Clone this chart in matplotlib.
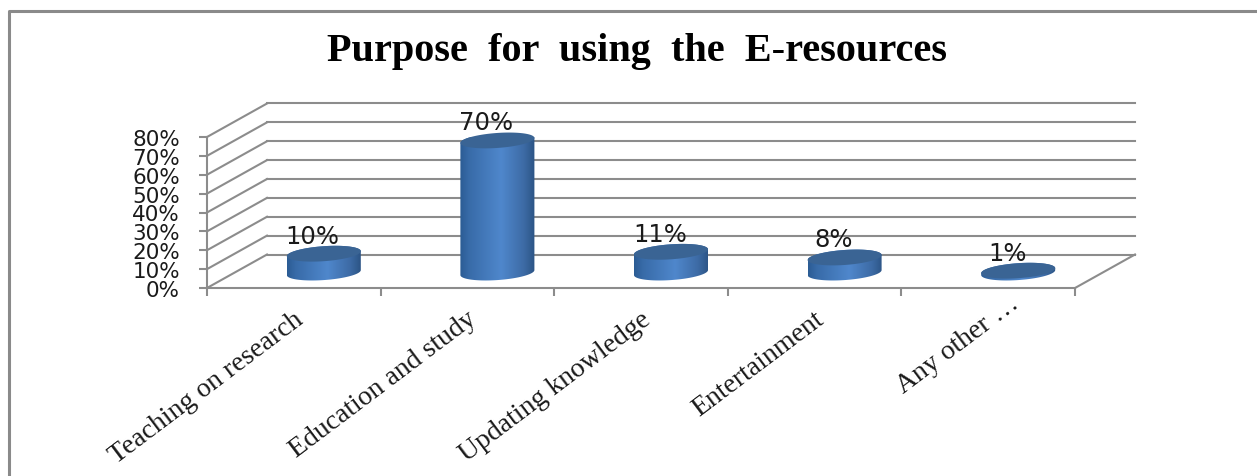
import numpy as np
import matplotlib
matplotlib.use('Agg')
import matplotlib.pyplot as plt
from matplotlib.lines import Line2D
from matplotlib.patches import Polygon

categorias = ['Teaching on research', 'Education and study', 'Updating knowledge',
              'Entertainment', 'Any other …']
valores = [10, 70, 11, 8, 1]
marcas_y = [0, 10, 20, 30, 40, 50, 60, 70, 80]

largura, altura = 1257, 477
cinza = '#8c8c8c'

fig = plt.figure(figsize=(largura / 100, altura / 100), dpi=100, facecolor='white')
# eixo = parede da frente do grafico 3D
ax = fig.add_axes([207 / largura, 1 - 289 / altura, 868 / largura, 151 / altura])
ax.patch.set_visible(False)

# profundidade em unidades dos dados
px_x = 868 / 5
px_y = 151 / 80
prof_x = 60 / px_x
prof_y = 33.5 / px_y

# grade no fundo e diagonais na parede esquerda
for v in marcas_y:
    ax.plot([prof_x, 5 + prof_x], [v + prof_y, v + prof_y], color=cinza, lw=1.5, clip_on=False, zorder=1)
    ax.plot([0, prof_x], [v, v + prof_y], color=cinza, lw=1.5, clip_on=False, zorder=1)
ax.plot([5, 5 + prof_x], [0, prof_y], color=cinza, lw=1.5, clip_on=False, zorder=1)

# degrade dos cilindros
pos = [0, 0.12, 0.55, 0.85, 1]
r = np.interp(np.linspace(0, 1, 200), pos, [0.17, 0.22, 0.31, 0.24, 0.17])
g = np.interp(np.linspace(0, 1, 200), pos, [0.36, 0.42, 0.53, 0.42, 0.33])
b = np.interp(np.linspace(0, 1, 200), pos, [0.58, 0.66, 0.80, 0.65, 0.52])
degrade = np.dstack([r, g, b])

raio_x = 37 / px_x
raio_y = 7.5 / px_y
inclina = 2.5 / px_y


def elipse(cx, cy, t):
    return cx + raio_x * np.cos(t), cy + raio_y * np.sin(t) + inclina * np.cos(t)


for i, v in enumerate(valores):
    cx = i + 0.5 + prof_x / 2
    cy = prof_y / 2 - 0.7
    t_baixo = np.linspace(np.pi, 2 * np.pi, 60)
    t_cima = np.linspace(0, np.pi, 60)
    x1, y1 = elipse(cx, cy, t_baixo)
    x2, y2 = elipse(cx, cy + v, t_cima)
    corpo = Polygon(np.column_stack([np.r_[x1, x2], np.r_[y1, y2]]), closed=True,
                    transform=ax.transData, fc='none', ec='none')
    ax.add_patch(corpo)
    im = ax.imshow(degrade, extent=[cx - raio_x, cx + raio_x, -10, 90], aspect='auto', zorder=3)
    im.set_clip_path(corpo)
    xt, yt = elipse(cx, cy + v, np.linspace(0, 2 * np.pi, 120))
    ax.fill(xt, yt, color='#3a6494', lw=0, zorder=4, clip_on=False)
    ax.annotate(f'{v}%', (cx, cy + v), xytext=(-8, 18 * 0.72), textcoords='offset points',
                ha='center', va='center', fontsize=17.5, color='#1a1a1a', zorder=5)
    # o ultimo rotulo tem reticencias mais estreitas no original
    ajuste = (22, 16) if i == 4 else (0, 0)
    ax.annotate(categorias[i], (i + 0.5, 0),
                xytext=((-1 + ajuste[0]) * 0.72, (-18 + ajuste[1]) * 0.72), textcoords='offset points',
                ha='right', va='top', rotation=37, rotation_mode='anchor',
                family='Liberation Serif', fontsize=20, color='#1a1a1a')

ax.set_xlim(0, 5)
ax.set_ylim(0, 80)
ax.set_xticks(range(6))
ax.set_xticklabels([])
ax.set_yticks(marcas_y)
ax.set_yticklabels([f'{v}%' for v in marcas_y], fontsize=15.5, color='#1a1a1a')
ax.tick_params(axis='both', length=5.5, width=1.5, color=cinza)
ax.tick_params(axis='y', pad=14)
for lado in ['top', 'right']:
    ax.spines[lado].set_visible(False)
for lado in ['left', 'bottom']:
    ax.spines[lado].set_color(cinza)
    ax.spines[lado].set_linewidth(1.5)

fig.text(637 / largura, 1 - 52 / altura, 'Purpose  for  using  the  E-resources',
         family='Liberation Serif', fontweight='bold', fontsize=29,
         ha='center', va='center', color='black')

# moldura cortada na direita e embaixo
fig.add_artist(Line2D([9 / largura, 9 / largura, 1], [0, 1 - 12 / altura, 1 - 12 / altura],
                      transform=fig.transFigure, color='#8a8a8a', lw=2.2))

fig.savefig('out.png', dpi=100)
